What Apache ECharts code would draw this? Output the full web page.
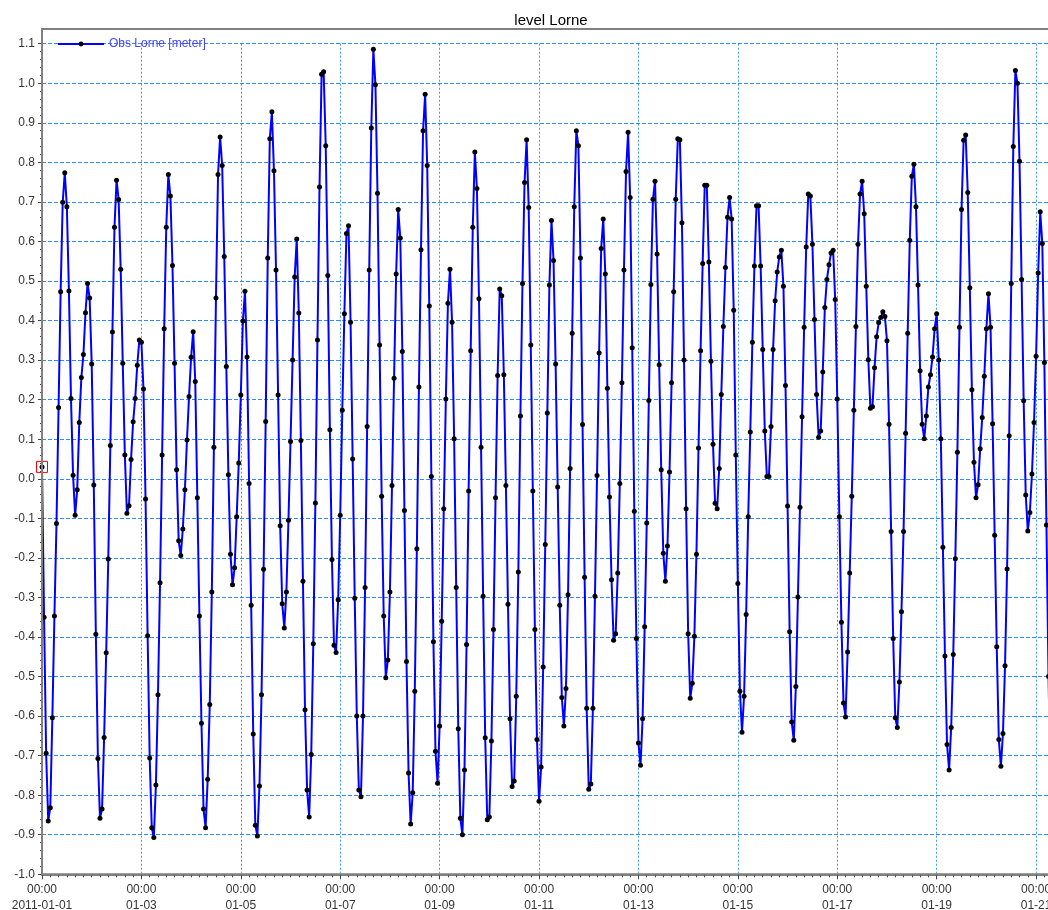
<!DOCTYPE html>
<html>
<head>
<meta charset="utf-8">
<script src="https://cdn.jsdelivr.net/npm/echarts@6/dist/echarts.min.js"></script>
<style>
html,body{margin:0;padding:0;background:#fff;}
#chart{width:1048px;height:910px;}
</style>
</head>
<body>
<div id="chart"></div>
<script>
const chartTitle = 'level Lorne';
const seriesName = 'Obs Lorne [meter]';
const stepHours = 1; // one observation per hour, starting 2011-01-01 00:00
const xTickLabels = ['00:00\n2011-01-01','00:00\n01-03','00:00\n01-05','00:00\n01-07','00:00\n01-09','00:00\n01-11','00:00\n01-13','00:00\n01-15','00:00\n01-17','00:00\n01-19','00:00\n01-21','00:00\n01-23'];
const levels = [
  0.03,-0.35,-0.694,-0.865,-0.832,-0.604,-0.347,-0.113,0.18,0.473,0.699,0.774,0.688,0.475,0.203,0.009,-0.092,-0.028,0.142,0.256,0.314,0.42,0.494,0.457,
  0.29,-0.016,-0.393,-0.707,-0.858,-0.835,-0.654,-0.44,-0.203,0.084,0.371,0.636,0.755,0.706,0.53,0.292,0.06,-0.087,-0.068,0.049,0.144,0.203,0.287,0.351,
  0.345,0.227,-0.051,-0.397,-0.706,-0.882,-0.907,-0.774,-0.546,-0.263,0.06,0.379,0.636,0.769,0.715,0.539,0.292,0.023,-0.157,-0.194,-0.127,-0.028,0.098,0.208,
  0.307,0.372,0.246,-0.048,-0.347,-0.618,-0.835,-0.882,-0.76,-0.571,-0.286,0.08,0.457,0.769,0.864,0.792,0.562,0.284,0.01,-0.191,-0.268,-0.225,-0.096,0.04,
  0.212,0.399,0.474,0.308,-0.012,-0.32,-0.645,-0.876,-0.903,-0.777,-0.546,-0.229,0.145,0.558,0.86,0.928,0.779,0.528,0.212,-0.119,-0.316,-0.377,-0.286,-0.105,
  0.094,0.3,0.51,0.606,0.419,0.097,-0.259,-0.584,-0.787,-0.855,-0.697,-0.417,-0.061,0.351,0.738,1.023,1.029,0.842,0.514,0.124,-0.204,-0.421,-0.439,-0.306,
  -0.092,0.173,0.417,0.62,0.64,0.396,0.05,-0.302,-0.6,-0.787,-0.804,-0.6,-0.275,0.132,0.528,0.887,1.086,0.996,0.722,0.338,-0.044,-0.347,-0.503,-0.458,
  -0.286,-0.017,0.254,0.518,0.681,0.609,0.322,-0.08,-0.462,-0.744,-0.873,-0.794,-0.537,-0.177,0.232,0.579,0.88,0.972,0.792,0.437,0.006,-0.412,-0.689,-0.77,
  -0.625,-0.36,-0.076,0.202,0.444,0.53,0.396,0.101,-0.275,-0.632,-0.858,-0.9,-0.736,-0.419,-0.031,0.324,0.636,0.826,0.734,0.455,0.08,-0.297,-0.655,-0.862,
  -0.855,-0.663,-0.381,-0.048,0.261,0.48,0.463,0.263,-0.017,-0.317,-0.607,-0.778,-0.764,-0.55,-0.236,0.159,0.494,0.749,0.857,0.686,0.338,-0.031,-0.381,-0.659,
  -0.815,-0.729,-0.476,-0.166,0.166,0.49,0.653,0.552,0.29,-0.021,-0.32,-0.553,-0.625,-0.53,-0.293,0.026,0.368,0.688,0.88,0.842,0.558,0.137,-0.249,-0.58,
  -0.785,-0.772,-0.58,-0.297,0.008,0.318,0.582,0.657,0.518,0.229,-0.046,-0.255,-0.408,-0.392,-0.238,-0.012,0.243,0.528,0.777,0.876,0.711,0.331,-0.082,-0.404,
  -0.668,-0.724,-0.607,-0.374,-0.112,0.198,0.491,0.707,0.752,0.568,0.288,0.023,-0.188,-0.259,-0.17,0.017,0.243,0.473,0.707,0.86,0.857,0.647,0.3,-0.076,
  -0.392,-0.555,-0.517,-0.398,-0.191,0.078,0.324,0.544,0.742,0.742,0.548,0.297,0.087,-0.062,-0.076,0.026,0.213,0.385,0.534,0.661,0.711,0.657,0.426,0.06,
  -0.265,-0.537,-0.641,-0.55,-0.343,-0.096,0.118,0.345,0.538,0.69,0.69,0.538,0.327,0.121,0.006,0.006,0.132,0.327,0.45,0.523,0.561,0.578,0.487,0.236,
  -0.069,-0.387,-0.615,-0.661,-0.525,-0.299,-0.072,0.157,0.383,0.586,0.72,0.715,0.593,0.403,0.213,0.105,0.121,0.27,0.433,0.504,0.541,0.571,0.578,0.453,
  0.202,-0.096,-0.363,-0.567,-0.602,-0.438,-0.238,-0.044,0.173,0.385,0.593,0.72,0.752,0.67,0.487,0.301,0.178,0.182,0.281,0.359,0.395,0.408,0.422,0.41,
  0.349,0.138,-0.133,-0.404,-0.604,-0.629,-0.514,-0.336,-0.133,0.115,0.368,0.603,0.765,0.795,0.688,0.49,0.273,0.138,0.101,0.159,0.232,0.263,0.308,0.379,
  0.417,0.3,0.101,-0.173,-0.448,-0.672,-0.736,-0.629,-0.444,-0.202,0.067,0.383,0.681,0.856,0.869,0.724,0.483,0.225,0.042,-0.048,-0.015,0.076,0.155,0.259,
  0.379,0.468,0.383,0.139,-0.143,-0.425,-0.659,-0.727,-0.644,-0.473,-0.228,0.109,0.494,0.84,1.032,1.0,0.803,0.504,0.197,-0.041,-0.132,-0.085,0.012,0.142,
  0.31,0.52,0.675,0.595,0.294,-0.117,-0.5,-0.78
];

const FONT = "'Liberation Sans', Arial, sans-serif";
const chart = echarts.init(document.getElementById('chart'), null, {renderer: 'canvas'});
const seriesData = levels.map((v, i) => [i * stepHours, v]);

const option = {
  animation: false,
  backgroundColor: '#ffffff',
  textStyle: {fontFamily: FONT},
  title: {
    text: chartTitle,
    left: 546,
    top: 8,
    textAlign: 'center',
    textStyle: {fontSize: 15, fontWeight: 'normal', color: '#000', fontFamily: FONT}
  },
  legend: {
    left: 57,
    top: 38,
    itemWidth: 46,
    itemHeight: 6,
    padding: 0,
    lineStyle: {color: '#0000ff', width: 2},
    itemStyle: {color: '#000000'},
    textStyle: {color: '#4444ff', fontSize: 12, fontFamily: FONT},
    data: [seriesName]
  },
  grid: {
    left: 42,
    top: 43.7,
    right: -87.5,
    bottom: 35.7,
    containLabel: false,
    outerBoundsMode: 'none'
  },
  xAxis: {
    type: 'value',
    min: 0,
    max: 528,
    interval: 48,
    axisLine: {show: true, onZero: false, lineStyle: {color: '#808080', width: 2}},
    axisTick: {show: true, length: 5, lineStyle: {color: '#444'}},
    minorTick: {show: true, splitNumber: 12, length: 3, lineStyle: {color: '#444'}},
    axisLabel: {
      fontSize: 12, color: '#333', lineHeight: 16, margin: 7, fontFamily: FONT,
      formatter: v => xTickLabels[Math.round(v / 48)] || ''
    },
    splitLine: {show: true, lineStyle: {color: '#3d9bff', type: [2, 2], width: 1}},
    minorSplitLine: {show: false}
  },
  yAxis: {
    type: 'value',
    min: -1.0,
    max: 1.1,
    interval: 0.1,
    axisLine: {show: true, lineStyle: {color: '#808080', width: 2}},
    axisTick: {show: true, length: 4, lineStyle: {color: '#444'}},
    minorTick: {show: true, splitNumber: 5, length: 2, lineStyle: {color: '#444'}},
    axisLabel: {
      fontSize: 12, color: '#333', margin: 7, fontFamily: FONT,
      formatter: v => (Math.round(v * 10) / 10).toFixed(1)
    },
    splitLine: {show: true, lineStyle: {color: '#2a8cff', type: [4, 2], width: 1}}
  },
  graphic: [{
    type: 'rect',
    z: 100,
    silent: true,
    shape: {x: 42, y: 29, width: 1200, height: 845.3},
    style: {fill: 'none', stroke: '#808080', lineWidth: 2}
  }],
  series: [{
    type: 'line',
    name: seriesName,
    data: seriesData,
    symbol: 'circle',
    symbolSize: 5,
    showSymbol: true,
    lineStyle: {color: '#0000ff', width: 2},
    itemStyle: {color: '#000000'},
    emphasis: {disabled: true},
    markPoint: {
      symbol: 'rect',
      symbolSize: 11,
      silent: true,
      label: {show: false},
      itemStyle: {color: 'rgba(0,0,0,0)', borderColor: '#ff0000', borderWidth: 1},
      data: [{coord: [0, levels[0]]}]
    }
  }]
};
chart.setOption(option);
</script>
</body>
</html>
